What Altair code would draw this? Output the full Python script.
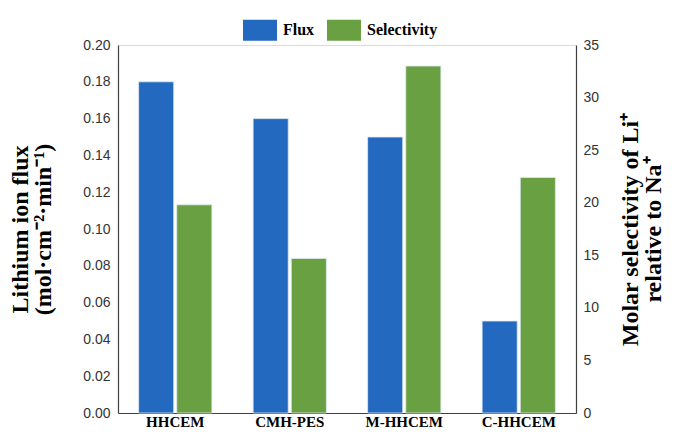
import altair as alt
import pandas as pd

membranes = ["HHCEM", "CMH-PES", "M-HHCEM", "C-HHCEM"]
flux = [0.180, 0.160, 0.150, 0.050]
selectivity = [19.8, 14.7, 33.0, 22.4]
series = ["Flux", "Selectivity"]
colors = ["#2469C0", "#68A042"]
flux_ticks = [0.00, 0.02, 0.04, 0.06, 0.08, 0.10, 0.12, 0.14, 0.16, 0.18, 0.20]
sel_ticks = [0, 5, 10, 15, 20, 25, 30, 35]

df = pd.DataFrame({
    "membrane": membranes * 2,
    "series": [series[0]] * len(membranes) + [series[1]] * len(membranes),
    "value": flux + selectivity,
})

SERIF = "Liberation Serif"
SANS = "Liberation Sans"

x_enc = alt.X(
    "membrane:N", sort=membranes,
    scale=alt.Scale(paddingInner=0.36, paddingOuter=0.18),
    axis=alt.Axis(title=None, labelAngle=0, ticks=False, labelFont=SERIF,
                  labelFontWeight="bold", labelFontSize=15, labelColor="black",
                  labelPadding=1, domainColor="#404040", domainWidth=1.2),
)
xoff_enc = alt.XOffset("series:N", scale=alt.Scale(domain=series, paddingInner=0.08))
color_enc = alt.Color(
    "series:N",
    scale=alt.Scale(domain=series, range=colors),
    legend=alt.Legend(
        title=None, orient="none", legendX=125, legendY=-32, direction="horizontal",
        symbolType="M-1,-0.62H1V0.62H-1Z", symbolSize=1156, symbolStrokeWidth=0,
        labelFont=SERIF, labelFontWeight="bold", labelFontSize=16, labelColor="black",
        labelOffset=6, columnPadding=12, padding=0,
    ),
)

base = alt.Chart(df).mark_bar(stroke="#dfe8f5", strokeWidth=0.8)

flux_layer = base.transform_filter(alt.datum.series == "Flux").encode(
    x=x_enc, xOffset=xoff_enc, color=color_enc,
    y=alt.Y("value:Q", scale=alt.Scale(domain=[0, 0.2], nice=False),
            axis=alt.Axis(orient="left", values=flux_ticks, format=".2f", ticks=False,
                          grid=False, labelFont=SANS, labelFontSize=14, labelColor="#333333",
                          labelPadding=8, domainColor="#404040", domainWidth=1.2,
                          title=["Lithium ion flux", "(mol·cm⁻²·min⁻¹)"],
                          titleFont=SERIF, titleFontWeight="bold", titleFontSize=24,
                          titleColor="black", titleLineHeight=23, titlePadding=27)),
)

sel_layer = base.transform_filter(alt.datum.series == "Selectivity").encode(
    x=x_enc, xOffset=xoff_enc, color=color_enc,
    y=alt.Y("value:Q", scale=alt.Scale(domain=[0, 35], nice=False),
            axis=alt.Axis(orient="right", values=sel_ticks, format="d", ticks=False,
                          grid=False, labelFont=SANS, labelFontSize=14, labelColor="#333333",
                          labelPadding=7, domainColor="#404040", domainWidth=1.2,
                          title=["Molar selectivity of Li⁺", "relative to Na⁺"],
                          titleFont=SERIF, titleFontWeight="bold", titleFontSize=24,
                          titleColor="black", titleLineHeight=23, titleAngle=270,
                          titleBaseline="top", titleX=42, titleY=184)),
)

chart = alt.layer(flux_layer, sel_layer).resolve_scale(y="independent").properties(
    width=458, height=368,
    autosize=alt.AutoSizeParams(type="none"),
    padding={"left": 110, "top": 37, "right": 91, "bottom": 18},
).configure_view(stroke=None).configure(background="white")

chart.save("out.html", embed_options={"renderer": "svg", "actions": False})
